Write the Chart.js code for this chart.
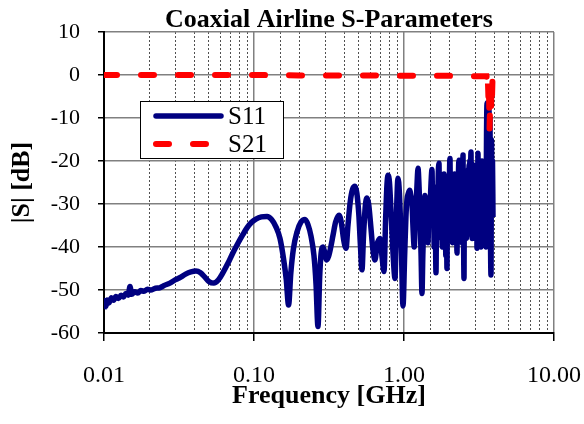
<!DOCTYPE html>
<html>
<head>
<meta charset="utf-8">
<script src="https://cdn.jsdelivr.net/npm/chart.js@4.4.0/dist/chart.umd.min.js"></script>
<style>
html,body{margin:0;padding:0;background:#fff;}
</style>
</head>
<body>
<canvas id="chart" width="584" height="424"></canvas>
<script>
const chart_title = 'Coaxial Airline S-Parameters';
const x_title = 'Frequency [GHz]';
const y_title = '|S| [dB]';
const x_tick_values = [0.01, 0.1, 1, 10];
const x_tick_labels = ['0.01', '0.10', '1.00', '10.00'];
const y_min = -60, y_max = 10, y_step = 10;

// S11: [GHz, dB]
const s11_points = [
	[0.0100,-54.5],[0.0101,-52.5],[0.0103,-53.8],[0.0105,-52.3],[0.0108,-53.0],
	[0.0112,-51.8],[0.0116,-52.4],[0.0120,-51.5],[0.0125,-52.0],[0.0130,-51.2],
	[0.0135,-51.6],[0.0140,-50.8],[0.0145,-51.2],[0.0149,-49.2],[0.0153,-51.0],
	[0.0160,-50.4],[0.0168,-50.7],[0.0176,-50.1],[0.0185,-50.3],[0.0195,-49.8],
	[0.0205,-50.0],[0.0220,-49.6],[0.0235,-49.5],[0.0250,-49.0],[0.0275,-48.4],
	[0.0300,-47.6],[0.0325,-47.0],[0.0350,-46.3],[0.0380,-45.8],[0.0410,-45.6],
	[0.0440,-46.0],[0.0470,-47.0],[0.0500,-48.0],[0.0540,-48.4],[0.0580,-47.6],
	[0.0620,-46.0],[0.0670,-43.8],[0.0720,-41.5],[0.0780,-39.2],[0.0840,-37.2],
	[0.0900,-35.5],[0.0960,-34.3],[0.1030,-33.5],[0.1120,-33.0],[0.1221,-32.9],
	[0.1310,-33.6],[0.1400,-35.3],[0.1490,-38.0],[0.1570,-42.5],[0.1640,-47.5],
	[0.1700,-53.5],[0.1760,-46.0],[0.1830,-40.5],[0.1935,-36.5],[0.2057,-34.2],
	[0.2188,-33.6],[0.2290,-34.8],[0.2400,-37.5],[0.2510,-42.0],[0.2590,-48.5],
	[0.2670,-58.5],[0.2740,-47.0],[0.2800,-41.5],[0.2880,-40.0],[0.2960,-41.2],
	[0.3050,-43.0],[0.3140,-42.2],[0.3250,-40.0],[0.3362,-37.3],[0.3500,-34.2],
	[0.3687,-32.6],[0.3820,-34.3],[0.3960,-38.3],[0.4106,-40.3],[0.4230,-35.0],
	[0.4380,-29.5],[0.4550,-26.5],[0.4713,-25.9],[0.4850,-27.5],[0.5000,-32.5],
	[0.5120,-39.5],[0.5248,-45.3],[0.5370,-37.5],[0.5520,-30.5],[0.5666,-28.6],
	[0.5810,-30.0],[0.6000,-35.0],[0.6200,-40.5],[0.6405,-43.0],[0.6610,-39.5],
	[0.6920,-38.0],[0.7150,-42.5],[0.7356,-45.7],[0.7550,-33.0],[0.7700,-25.5],
	[0.7822,-23.3],[0.8000,-25.0],[0.8250,-34.0],[0.8500,-43.0],[0.8710,-47.3],
	[0.8900,-33.0],[0.9120,-24.0],[0.9320,-27.5],[0.9600,-40.0],[0.9848,-53.7],
	[1.0100,-42.0],[1.0300,-33.0],[1.0470,-29.0],[1.0700,-27.5],[1.0900,-26.8],
	[1.1100,-28.0],[1.1310,-30.0],[1.1500,-36.0],[1.1700,-40.0],[1.1880,-34.0],
	[1.2050,-30.0],[1.2230,-25.0],[1.2400,-21.7],[1.2600,-26.0],[1.2800,-33.0],
	[1.3000,-42.0],[1.3180,-50.8],[1.3350,-42.0],[1.3500,-36.0],[1.3650,-31.0],
	[1.3800,-28.0],[1.3950,-30.0],[1.4100,-35.0],[1.4280,-37.0],[1.4450,-39.0],
	[1.4600,-33.0],[1.4700,-30.0],[1.4800,-32.0],[1.4900,-34.0],[1.5000,-29.0],
	[1.5150,-25.0],[1.5370,-22.0],[1.5550,-34.0],[1.5720,-26.0],[1.5900,-40.0],
	[1.6100,-28.0],[1.6340,-46.0],[1.6520,-27.0],[1.6700,-36.0],[1.6900,-24.0],
	[1.7110,-20.5],[1.7280,-35.0],[1.7450,-25.0],[1.7620,-38.0],[1.7800,-27.0],
	[1.7980,-40.0],[1.8150,-26.0],[1.8320,-37.0],[1.8480,-23.0],[1.8650,-39.0],
	[1.8820,-28.0],[1.9000,-42.0],[1.9180,-30.0],[1.9340,-45.0],[1.9500,-28.0],
	[1.9670,-38.0],[1.9850,-24.0],[2.0000,-34.0],[2.0130,-22.0],[2.0260,-19.4],
	[2.0400,-33.0],[2.0550,-25.0],[2.0700,-36.0],[2.0850,-27.0],[2.1000,-39.0],
	[2.1150,-26.0],[2.1300,-35.0],[2.1450,-24.0],[2.1600,-37.0],[2.1750,-23.0],
	[2.1900,-33.0],[2.2050,-27.0],[2.2200,-39.0],[2.2350,-29.0],[2.2560,-41.4],
	[2.2720,-28.0],[2.2900,-36.0],[2.3080,-23.0],[2.3260,-19.8],[2.3420,-34.0],
	[2.3570,-26.0],[2.3720,-38.0],[2.3870,-25.0],[2.4020,-36.0],[2.4170,-27.0],
	[2.4320,-39.0],[2.4470,-24.0],[2.4620,-33.0],[2.4740,-18.6],[2.4920,-35.0],
	[2.5120,-47.3],[2.5270,-28.0],[2.5420,-37.0],[2.5570,-24.0],[2.5720,-35.0],
	[2.5880,-26.0],[2.6040,-38.0],[2.6200,-25.0],[2.6360,-34.0],[2.6520,-23.0],
	[2.6680,-37.0],[2.6840,-22.0],[2.7000,-35.0],[2.7160,-21.0],[2.7320,-33.0],
	[2.7480,-20.0],[2.7650,-36.0],[2.7810,-22.0],[2.7970,-17.9],[2.8130,-34.0],
	[2.8290,-24.0],[2.8450,-38.0],[2.8610,-26.0],[2.8770,-37.0],[2.8930,-23.0],
	[2.9090,-35.0],[2.9250,-21.0],[2.9410,-33.0],[2.9570,-24.0],[2.9730,-38.0],
	[2.9890,-26.0],[3.0050,-36.0],[3.0210,-22.0],[3.0370,-34.0],[3.0520,-25.0],
	[3.0670,-40.3],[3.0830,-24.0],[3.0980,-33.0],[3.1140,-18.2],[3.1300,-35.0],
	[3.1460,-25.0],[3.1620,-38.0],[3.1780,-23.0],[3.1940,-36.0],[3.2100,-21.0],
	[3.2260,-34.0],[3.2420,-26.0],[3.2610,-40.0],[3.2770,-24.0],[3.2930,-35.0],
	[3.3090,-20.0],[3.3250,-33.0],[3.3410,-25.0],[3.3570,-38.0],[3.3730,-22.0],
	[3.3890,-36.0],[3.4050,-24.0],[3.4210,-39.0],[3.4370,-21.0],[3.4530,-34.0],
	[3.4690,-20.0],[3.4850,-36.0],[3.5010,-25.0],[3.5210,-40.0],[3.5350,-25.0],
	[3.5500,-14.0],[3.5770,-6.5],[3.6000,-22.0],[3.6310,-7.0],[3.6600,-30.0],
	[3.6870,-8.0],[3.7150,-20.0],[3.7440,-10.0],[3.7700,-36.0],[3.8020,-46.5],
	[3.8300,-15.0],[3.8620,-28.0],[3.8900,-20.0],[3.9200,-33.0]
];

// S21: [GHz, dB]
const s21_points = [
	[0.01,0],[0.02,0],[0.05,0],[0.1,0],[0.2,-0.1],[0.5,-0.1],[1,-0.2],[2,-0.2],
	[3,-0.3],[3.55,-0.3],[3.577,-1],[3.6,-4],[3.631,-2],[3.66,-6],[3.687,-3],
	[3.715,-12.8],[3.744,-8],[3.77,-4],[3.802,-10],[3.83,-2],[3.862,-5],[3.89,-1],[3.92,-0.5]
];

const serif = '"Liberation Serif", "Times New Roman", serif';

function is_decade(v){
	let l = Math.log10(v);
	return Math.abs(l - Math.round(l)) < 1e-6;
}
function to_points(rows){
	return rows.map((r) => ({x: r[0], y: r[1]}));
}

const title_plugin = {
	id: 'plot_title',
	afterDraw: function(chart){
		let ctx = chart.ctx, a = chart.chartArea;
		ctx.save();
		ctx.font = 'bold 26px ' + serif;
		ctx.fillStyle = '#000';
		ctx.textAlign = 'center';
		ctx.textBaseline = 'alphabetic';
		ctx.fillText(chart_title, (a.left + a.right) / 2, 27);
		ctx.restore();
	}
};

// legend box sits inside the plot, Excel style
const legend_plugin = {
	id: 'box_legend',
	afterDraw: function(chart){
		let ctx = chart.ctx;
		let box = {x: 140, y: 101, w: 143, h: 57};
		let rows = [116, 144];
		ctx.save();
		ctx.fillStyle = '#fff';
		ctx.fillRect(box.x, box.y, box.w, box.h);
		ctx.strokeStyle = '#000';
		ctx.lineWidth = 1;
		ctx.strokeRect(box.x + 0.5, box.y + 0.5, box.w, box.h);
		[0, 1].forEach((i) => {
			let ds = chart.data.datasets[i];
			ctx.beginPath();
			ctx.strokeStyle = ds.borderColor;
			ctx.lineWidth = ds.borderWidth;
			ctx.lineCap = 'round';
			ctx.setLineDash(ds.borderDash || []);
			ctx.moveTo(156, rows[i]);
			ctx.lineTo(221, rows[i]);
			ctx.stroke();
			ctx.setLineDash([]);
			ctx.fillStyle = '#000';
			ctx.font = '25px ' + serif;
			ctx.textAlign = 'left';
			ctx.textBaseline = 'middle';
			ctx.fillText(ds.label, 228, rows[i] + 1);
		});
		ctx.restore();
	}
};

new Chart('chart', {
	type: 'line',
	data: {
		datasets: [
			{
				label: 'S11',
				data: to_points(s11_points),
				borderColor: '#000080',
				borderWidth: 5.5,
				pointRadius: 0,
				cubicInterpolationMode: 'monotone',
				borderJoinStyle: 'round',
				order: 1
			},
			{
				label: 'S21',
				data: to_points(s21_points),
				borderColor: '#FF0000',
				borderWidth: 6,
				borderDash: [13, 24],
				borderCapStyle: 'round',
				pointRadius: 0,
				order: 0
			}
		]
	},
	options: {
		responsive: false,
		animation: false,
		devicePixelRatio: 1,
		layout: { padding: { top: 32, right: 30, left: 0, bottom: 0 } },
		plugins: {
			legend: { display: false },
			title: { display: false },
			tooltip: { enabled: false }
		},
		scales: {
			x: {
				type: 'logarithmic',
				min: 0.01,
				max: 10,
				afterFit: (s) => { s.height = 91; s.paddingLeft = 0; s.paddingRight = 0; },
				grid: {
					color: (c) => is_decade(c.tick.value) ? '#808080' : '#505050',
					lineWidth: (c) => is_decade(c.tick.value) ? 1.5 : 1,
					tickColor: (c) => is_decade(c.tick.value) ? '#000' : 'rgba(0,0,0,0)',
					tickLength: 8
				},
				border: {
					color: '#000',
					width: 2,
					dash: (c) => (c.tick && !is_decade(c.tick.value)) ? [2, 2] : []
				},
				ticks: {
					autoSkip: false,
					maxRotation: 0,
					padding: 20,
					color: '#000',
					font: { family: serif, size: 24 },
					callback: function(v){
						if (!is_decade(v)) return '';
						let i = x_tick_values.findIndex((t) => Math.abs(Math.log10(t) - Math.log10(v)) < 1e-6);
						return i >= 0 ? x_tick_labels[i] : '';
					}
				},
				title: {
					display: true,
					text: x_title,
					color: '#000',
					font: { family: serif, size: 26, weight: 'bold' },
					padding: { top: 0, bottom: 12 }
				}
			},
			y: {
				min: y_min,
				max: y_max,
				afterFit: (s) => { s.width = 104; },
				grid: {
					color: '#808080',
					lineWidth: 1.5,
					tickColor: '#000',
					tickLength: 6
				},
				border: { color: '#000', width: 2 },
				ticks: {
					stepSize: y_step,
					padding: 18,
					color: '#000',
					font: { family: serif, size: 22 }
				},
				title: {
					display: true,
					text: y_title,
					color: '#000',
					font: { family: serif, size: 26, weight: 'bold' },
					padding: { top: 7, bottom: 0 }
				}
			}
		}
	},
	plugins: [title_plugin, legend_plugin]
});
</script>
</body>
</html>
